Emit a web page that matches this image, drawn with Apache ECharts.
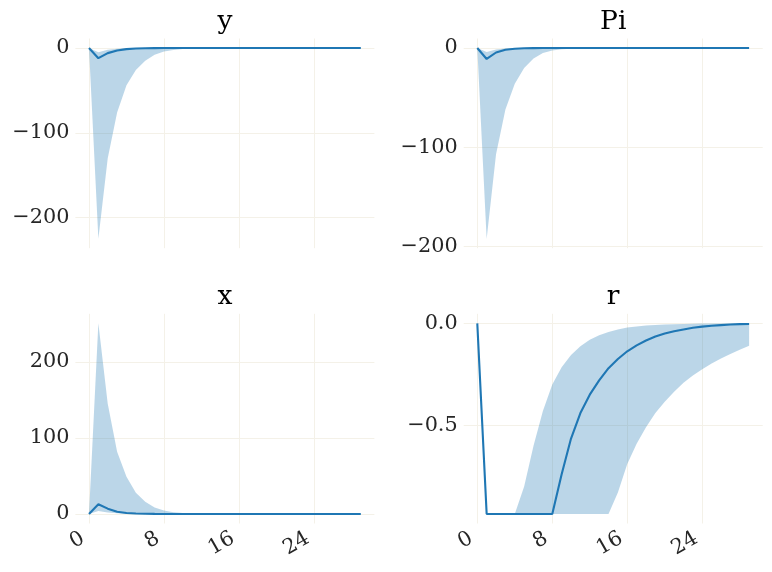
<!DOCTYPE html>
<html><head><meta charset="utf-8">
<script src="https://cdn.jsdelivr.net/npm/echarts@6/dist/echarts.min.js"></script>
<style>html,body{margin:0;padding:0;background:#fff}#c{width:772px;height:572px}</style>
</head><body><div id="c"></div>
<script>
// ---- data ----
const periods = [0,1,2,3,4,5,6,7,8,9,10,11,12,13,14,15,16,17,18,19,20,21,22,23,24,25,26,27,28,29];
const xTickValues = [0, 8, 16, 24];

const titles = ['y', 'Pi', 'x', 'r'];

const yMed  = [0,-12,-6,-3,-1.3,-0.6,-0.25,-0.1,-0.05,-0.02,0,0,0,0,0,0,0,0,0,0,0,0,0,0,0,0,0,0,0,0];
const yLo   = [0,-225,-130,-76,-44,-26,-15,-8,-4.2,-2.2,-1.1,-0.55,-0.27,-0.13,-0.06,-0.03,-0.01,0,0,0,0,0,0,0,0,0,0,0,0,0];
const yHi   = [0,-5,-2,-0.8,-0.3,-0.1,-0.04,0,0,0,0,0,0,0,0,0,0,0,0,0,0,0,0,0,0,0,0,0,0,0];

const piMed = [0,-11,-4.5,-1.8,-0.7,-0.25,-0.1,-0.04,0,0,0,0,0,0,0,0,0,0,0,0,0,0,0,0,0,0,0,0,0,0];
const piLo  = [0,-192,-107,-62,-36,-20,-10.5,-5,-2.5,-1.2,-0.6,-0.3,-0.14,-0.07,-0.03,-0.01,0,0,0,0,0,0,0,0,0,0,0,0,0,0];
const piHi  = [0,-4,-1.5,-0.5,-0.2,-0.05,0,0,0,0,0,0,0,0,0,0,0,0,0,0,0,0,0,0,0,0,0,0,0,0];

const xMed  = [0,12.7,7,3,1.3,0.6,0.25,0.1,0.05,0.02,0,0,0,0,0,0,0,0,0,0,0,0,0,0,0,0,0,0,0,0];
const xLo   = [0,4,2,0.8,0.3,0.1,0,0,0,0,0,0,0,0,0,0,0,0,0,0,0,0,0,0,0,0,0,0,0,0];
const xHi   = [0,251,145,82,49,28,16,8.5,4.5,2.3,1.2,0.6,0.3,0.15,0.07,0.03,0.01,0,0,0,0,0,0,0,0,0,0,0,0,0];

const rMed  = [0,-0.935,-0.935,-0.935,-0.935,-0.935,-0.935,-0.935,-0.935,-0.74,-0.565,-0.44,-0.35,-0.28,-0.22,-0.175,-0.137,-0.108,-0.084,-0.065,-0.05,-0.039,-0.03,-0.022,-0.016,-0.012,-0.009,-0.006,-0.004,-0.003];
const rLo   = [0,-0.935,-0.935,-0.935,-0.935,-0.935,-0.935,-0.935,-0.935,-0.935,-0.935,-0.935,-0.935,-0.935,-0.935,-0.83,-0.69,-0.59,-0.51,-0.44,-0.385,-0.335,-0.292,-0.256,-0.225,-0.197,-0.173,-0.151,-0.13,-0.11];
const rHi   = [0,-0.935,-0.935,-0.935,-0.935,-0.8,-0.6,-0.43,-0.3,-0.215,-0.155,-0.112,-0.08,-0.058,-0.042,-0.03,-0.021,-0.015,-0.011,-0.008,-0.006,-0.004,-0.003,-0.002,-0.001,-0.001,-0.001,-0.001,-0.001,-0.001];

const yTickValues  = [-200, -100, 0];
const piTickValues = [-200, -100, 0];
const xTickValuesY = [0, 100, 200];
const rTickValues  = [-0.5, 0];

// ---- layout / style ----
const LINE = '#1f77b4';
const BAND = 'rgba(31,119,180,0.3)';
const GRIDC = '#f4f1e8';
const FONT = 'DejaVu Serif';
const panels = [
  {title: titles[0], med: yMed,  lo: yLo,  hi: yHi,  ticks: yTickValues,  dec: 0, left: 75.4,  top: 38.5,  xlab: false},
  {title: titles[1], med: piMed, lo: piLo, hi: piHi, ticks: piTickValues, dec: 0, left: 463.7, top: 38.5,  xlab: false},
  {title: titles[2], med: xMed,  lo: xLo,  hi: xHi,  ticks: xTickValuesY, dec: 0, left: 75.4,  top: 313.8, xlab: true},
  {title: titles[3], med: rMed,  lo: rLo,  hi: rHi,  ticks: rTickValues,  dec: 1, left: 463.7, top: 313.8, xlab: true}
];
const W = 299, H = 209.7;

function fmt(dec) {
  return function (v) {
    const s = Math.abs(v).toFixed(dec);
    return (v < -1e-12 ? '\u2212' : '') + s;
  };
}
function pad(arrs) {
  let mn = Infinity, mx = -Infinity;
  arrs.forEach(a => a.forEach(v => { if (v < mn) mn = v; if (v > mx) mx = v; }));
  const r = mx - mn;
  return [mn - 0.05 * r, mx + 0.05 * r];
}
const tMin = periods[0], tMax = periods[periods.length - 1];
const tPad = 0.05 * (tMax - tMin);

const option = {
  backgroundColor: '#fff',
  animation: false,
  title: [], grid: [], xAxis: [], yAxis: [], series: []
};

panels.forEach((p, i) => {
  const ext = pad([p.med, p.lo, p.hi]);
  option.title.push({
    text: p.title, left: p.left + W / 2, top: p.top - 30, textAlign: 'center', padding: 0,
    textStyle: {fontFamily: FONT, fontSize: 26.5, fontWeight: 'normal', color: '#000'}
  });
  option.grid.push({left: p.left, top: p.top, width: W, height: H, containLabel: false, outerBoundsMode: 'none'});
  option.xAxis.push({
    type: 'value', gridIndex: i, min: tMin - tPad, max: tMax + tPad,
    axisLine: {show: false},
    axisTick: {show: false, customValues: xTickValues},
    splitLine: {show: true, lineStyle: {color: GRIDC, width: 1}},
    axisLabel: {show: p.xlab, customValues: xTickValues, rotate: 30, margin: 10,
      padding: [0, 7, 0, 0],
      fontFamily: FONT, fontSize: 20.8, color: '#262626', formatter: fmt(0)}
  });
  option.yAxis.push({
    type: 'value', gridIndex: i, min: ext[0], max: ext[1],
    axisLine: {show: false},
    axisTick: {show: false, customValues: p.ticks},
    splitLine: {show: true, lineStyle: {color: GRIDC, width: 1}},
    axisLabel: {customValues: p.ticks, margin: 6, fontFamily: FONT, fontSize: 20.8, color: '#262626', formatter: fmt(p.dec)}
  });
  const lo = p.lo, hi = p.hi;
  option.series.push({
    type: 'custom', xAxisIndex: i, yAxisIndex: i, silent: true,
    data: periods.map((t, k) => [t, lo[k], hi[k]]),
    encode: {x: 0, y: [1, 2]},
    renderItem: function (params, api) {
      if (params.dataIndex !== 0) return null;
      const pts = [];
      for (let k = 0; k < periods.length; k++) pts.push(api.coord([periods[k], hi[k]]));
      for (let k = periods.length - 1; k >= 0; k--) pts.push(api.coord([periods[k], lo[k]]));
      return {type: 'polygon', shape: {points: pts}, style: {fill: BAND, stroke: null}};
    }
  });
  option.series.push({
    type: 'line', xAxisIndex: i, yAxisIndex: i, silent: true,
    data: periods.map((t, k) => [t, p.med[k]]),
    showSymbol: false, symbol: 'none',
    lineStyle: {color: LINE, width: 2.1}
  });
});

const chart = echarts.init(document.getElementById('c'), null, {renderer: 'canvas'});
chart.setOption(option);
</script>
</body></html>
